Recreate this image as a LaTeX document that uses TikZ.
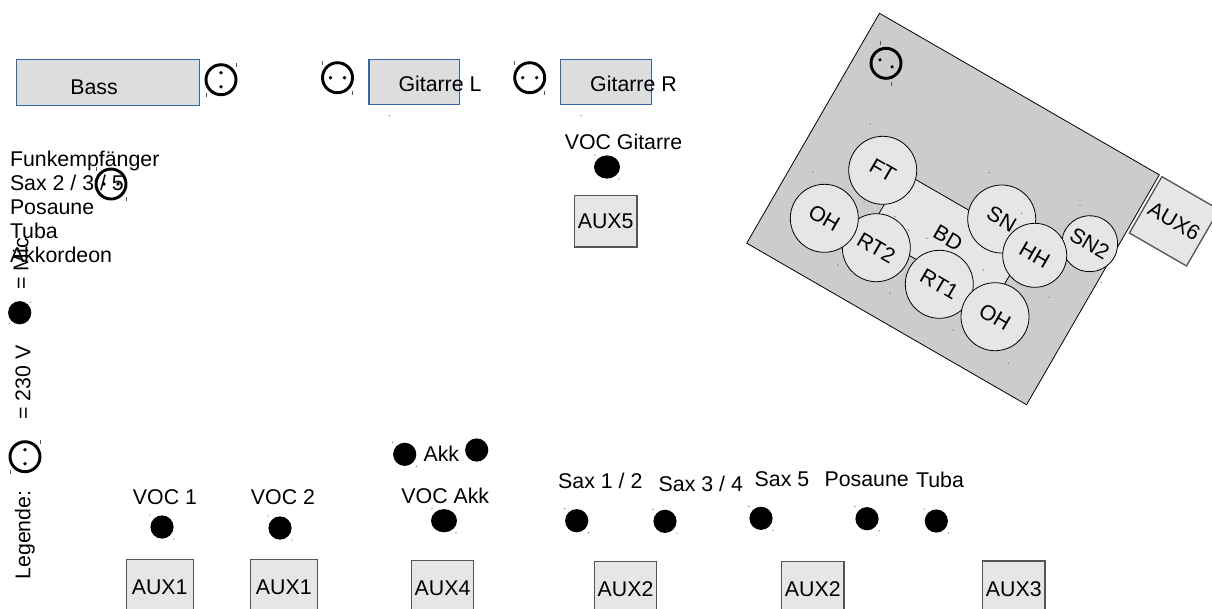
\documentclass[tikz,border=0pt]{standalone}
\usepackage{fontspec}
\setmainfont{Liberation Sans}
\usetikzlibrary{shapes.geometric}
\definecolor{PLAN1}{HTML}{CCCCCC}
\definecolor{PLAN2}{HTML}{E6E6E6}
\definecolor{PLAN3}{HTML}{DDDDDD}
\definecolor{PLAN4}{HTML}{3465A4}
\definecolor{PLAN5}{HTML}{555555}
\tikzstyle{every node} = [font=\fontsize{16}{18}\selectfont, inner sep=0pt, outer sep=0pt]
\tikzstyle{riser} = [rectangle, rotate=-30, minimum width=242.3pt, minimum height=199.1pt, draw=black, line width=0.6pt, fill=PLAN1]
\tikzstyle{kit} = [circle, rotate=-30, minimum size=51pt, draw=black, line width=0.6pt, fill=PLAN2]
\tikzstyle{aux} = [rectangle, minimum width=46.8pt, minimum height=41.6pt, draw=PLAN5, line width=1pt, fill=PLAN2]
\tikzstyle{amp} = [rectangle, minimum height=33.9pt, draw=PLAN4, line width=0.8pt, fill=PLAN3]
\tikzstyle{mic} = [circle, minimum size=17.4pt, fill=black]
\tikzstyle{wide} = [ellipse, minimum width=19.5pt, minimum height=17.4pt, fill=black]
\tikzstyle{socket} = [circle, minimum size=22.5pt, draw=black, line width=2.2pt]
\tikzstyle{label} = [anchor=base]
\tikzstyle{side} = [anchor=base, rotate=90]
\tikzstyle{tick} = [PLAN5, line width=0.5pt]
\newcommand{\plug}[4]{
  \node (#1) [socket] at (#2,#3) {};
  \begin{scope}[shift={(#1)}, rotate=#4]
    \fill (-7,0) circle (1.8);
    \fill (7,0) circle (1.8);
    \coordinate (#1a) at (-15,-15);
    \coordinate (#1b) at (15,15);
  \end{scope}
  \draw [tick] (#1a) ++(0,-2) -- ++(0,4);
  \draw [tick] (#1b) ++(0,-2) -- ++(0,4);
}

\begin{document}
\begin{tikzpicture}[x=0.75pt, y=-0.75pt]

\useasboundingbox (0,0) rectangle (1212,608);

\node (bass) [amp, minimum width=137pt] at (107.8,82.5) {};
\node (gitL) [amp, minimum width=68pt] at (414.3,82) {};
\node (gitR) [amp, minimum width=68pt] at (606.2,82) {};
\node (bassT) [label] at (94,94) {Bass};
\node (gitLT) [label] at (440,91) {Gitarre L};
\node (gitRT) [label] at (633.5,91) {Gitarre R};

\node (riser) [riser] at (953,209) {};
\node (bd) [rectangle, rotate=-30, minimum width=108pt, minimum height=51.7pt, draw=black, line width=0.6pt, fill=PLAN2] at (948,238) {BD};
\node (sn2) [kit, minimum size=42pt] at (1089.7,243.7) {SN2};
\node (sn) [kit] at (1001.7,219) {SN};
\node (hh) [kit, minimum size=48pt] at (1034.7,255.3) {HH};
\node (ft) [kit] at (882.7,170.3) {FT};
\node (rt2) [kit] at (876.3,247.7) {RT2};
\node (oh1) [kit] at (824.3,218.3) {OH};
\node (rt1) [kit] at (939.3,284.3) {RT1};
\node (oh2) [kit] at (995,316.7) {OH};
\node (aux6) [aux, rotate=-30, minimum width=49.5pt, minimum height=48.8pt] at (1174.2,221.3) {AUX6};

\node (aux5) [aux, minimum height=38.5pt] at (605.7,221.3) {AUX5};
\node (aux1a) [aux, minimum width=50.2pt] at (159.7,587) {AUX1};
\node (aux1b) [aux, minimum width=50.2pt] at (283.8,587) {AUX1};
\node (aux4) [aux] at (442.5,588) {AUX4};
\node (aux2a) [aux] at (625.5,589) {AUX2};
\node (aux2b) [aux] at (812.8,589) {AUX2};
\node (aux3) [aux] at (1013.8,588.7) {AUX3};

\node (funk) [anchor=north west, align=left] at (10,151) {Funkempfänger\\Sax 2 / 3 / 5\\Posaune\\Tuba\\Akkordeon};

\node (leg) [side] at (30.3,535) {Legende:};
\node (legV) [side] at (30.3,382.5) {= 230 V};
\node (legM) [side] at (28.3,264) {= Mic};

\plug{sBass}{221}{79.7}{-90}
\plug{sGitL}{337.5}{77.7}{0}
\plug{sGitR}{529.7}{77.7}{0}
\plug{sFunk}{111}{184}{0}
\plug{sLeg}{25}{456.7}{-90}
\plug{sDrum}{886}{63.3}{-30}

\node (mLeg) [mic] at (19.7,312.7) {};
\node (mVoc1) [mic] at (162,527) {};
\node (mVoc2) [mic] at (280,528) {};
\node (mAkkL) [mic] at (404.7,454.3) {};
\node (mAkkR) [mic] at (476.7,450) {};
\node (mVocA) [wide] at (444,520.7) {};
\node (mVocG) [wide] at (607,167) {};
\node (mSax1) [mic] at (576.7,520.7) {};
\node (mSax3) [mic] at (665,521.3) {};
\node (mSax5) [mic] at (761,518.3) {};
\node (mPos) [mic] at (867,518.7) {};
\node (mTuba) [mic] at (936.3,521) {};

\node (tVocG) [label] at (623.5,149) {VOC Gitarre};
\node (tVoc1) [label] at (165,504) {VOC 1};
\node (tVoc2) [label] at (283,504) {VOC 2};
\node (tAkk) [label] at (441.3,461.7) {Akk};
\node (tVocA) [label] at (445.3,503.3) {VOC Akk};
\node (tSax1) [label] at (600.3,488.3) {Sax 1 / 2};
\node (tSax3) [label] at (700.8,491.3) {Sax 3 / 4};
\node (tSax5) [label] at (782,486.7) {Sax 5};
\node (tPos) [label] at (866.7,486) {Posaune};
\node (tTuba) [label] at (940,487) {Tuba};

% handles left over on the sheet
\foreach \m in {mVoc1,mVoc2,mAkkL,mVocA,mVocG,mSax1,mSax3,mSax5,mPos,mTuba}
  \fill [PLAN5] ([shift={(-12,-12)}]\m.center) circle (0.6) ([shift={(12,12)}]\m.center) circle (0.6);
\foreach \x/\y in {389.3/115.7,581/115.7,30.7/302.3,9.3/323.3,870.3/124,812.7/172,989.3/172.7,1080/205.3,864/202,895/216.7,926.7/238.3,837.7/265,890/293.3,983.3/270,953.3/330,1008.3/363.3,1049.3/297.3,1101/282.3,1021.7/213.3,908.3/230}
  \fill [PLAN5] (\x,\y) circle (0.6);

\end{tikzpicture}
\end{document}
